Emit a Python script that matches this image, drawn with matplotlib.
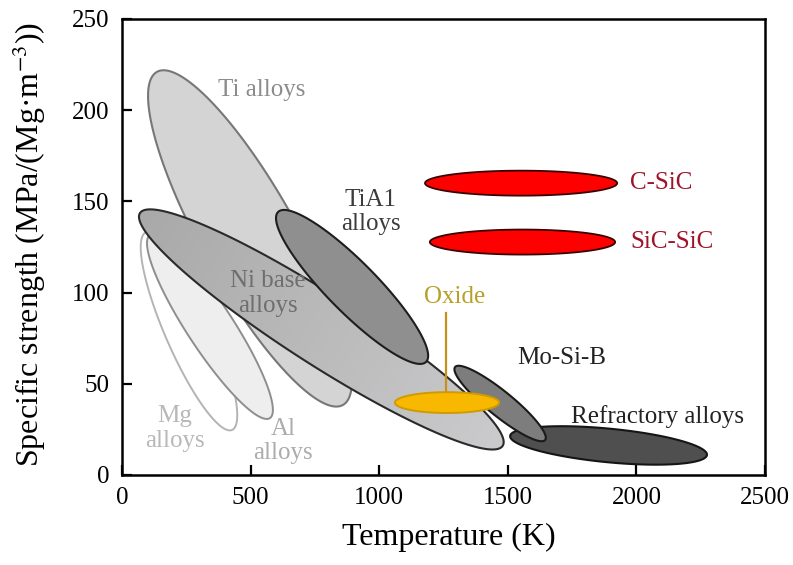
import numpy as np
import matplotlib
matplotlib.use("Agg")
import matplotlib.pyplot as plt
from matplotlib.patches import Polygon
from matplotlib.colors import LinearSegmentedColormap

plt.rcParams["font.family"] = ["Liberation Serif", "DejaVu Serif"]
plt.rcParams["mathtext.fontset"] = "stix"

# Property envelopes: end points of each region's long axis
# (temperature in K, specific strength in MPa/(Mg/m^3)) and its relative thickness
regions = ["Mg alloys", "Al alloys", "Ti alloys", "Ni base alloys", "TiAl alloys",
           "Refractory alloys", "Mo-Si-B", "Oxide", "C-SiC", "SiC-SiC"]
temp_start = [93, 109, 136, 70, 607, 1509, 1295, 1061, 1178, 1197]
strength_start = [133, 131.6, 221, 143.6, 144.2, 21.4, 59.2, 39.7, 160, 127.7]
temp_end = [428, 575, 859, 1480, 1182, 2274, 1645, 1466, 1925, 1917]
strength_end = [24.7, 31.2, 38.4, 16, 62, 11, 19.2, 39.7, 160, 127.7]
spread = [0.22, 0.21, 0.25, 0.163, 0.237, 0.17, 0.215, 0.20, 0.13, 0.135]

x_ticks = [0, 500, 1000, 1500, 2000, 2500]
y_ticks = [0, 50, 100, 150, 200, 250]

styles = {
    "Mg alloys":         dict(face="#ffffff", edge="#b4b4b4", lw=1.4),
    "Al alloys":         dict(face="#eeeeee", edge="#8e8e8e", lw=1.4),
    "Ti alloys":         dict(face="#d4d4d4", edge="#777777", lw=1.5),
    "Ni base alloys":    dict(face=("#a9a9a9", "#cbcbcd"), edge="#2a2a2a", lw=1.5),
    "TiAl alloys":       dict(face="#8f8f8f", edge="#1e1e1e", lw=1.5),
    "Refractory alloys": dict(face="#4f4f4f", edge="#151515", lw=1.5),
    "Mo-Si-B":           dict(face="#7d7d7d", edge="#1a1a1a", lw=1.5),
    "Oxide":             dict(face="#f8b800", edge="#d09a00", lw=1.4),
    "C-SiC":             dict(face="#ff0000", edge="#3a0000", lw=1.3),
    "SiC-SiC":           dict(face="#ff0000", edge="#3a0000", lw=1.3),
}

fig = plt.figure(figsize=(7.93, 5.65), dpi=100)
ax = fig.add_axes([0.1538, 0.1593, 0.8110, 0.8071])
ax.set_xlim(0, 2500)
ax.set_ylim(0, 250)


def draw_region(ax, p1, p2, ratio, face, edge, lw, z):
    """Fill an ellipse whose long axis runs from p1 to p2 (data units).
    A (start, end) pair of colours gives a shade along the long axis."""
    pts = ax.transData.transform([p1, p2])
    c = pts.mean(axis=0)
    half = (pts[1] - pts[0]) / 2.0
    normal = np.array([-half[1], half[0]]) * ratio
    t = np.linspace(0, 2 * np.pi, 300)
    disp = c + np.outer(np.cos(t), half) + np.outer(np.sin(t), normal)
    data = ax.transData.inverted().transform(disp)

    if isinstance(face, tuple):
        outline = Polygon(data, closed=True, facecolor="none", edgecolor=edge,
                          linewidth=lw, zorder=z + 0.5, joinstyle="round")
        ax.add_patch(outline)
        x0, x1 = data[:, 0].min(), data[:, 0].max()
        y0, y1 = data[:, 1].min(), data[:, 1].max()
        gx, gy = np.meshgrid(np.linspace(x0, x1, 300), np.linspace(y0, y1, 300))
        g = ax.transData.transform(np.column_stack([gx.ravel(), gy.ravel()]))
        u = half / np.dot(half, half)
        shade = ((g - c) @ u).reshape(gx.shape)
        shade = np.clip((shade + 1) / 2, 0, 1)
        cmap = LinearSegmentedColormap.from_list("shade", list(face))
        im = ax.imshow(shade, extent=[x0, x1, y0, y1], origin="lower", cmap=cmap,
                       vmin=0, vmax=1, aspect="auto", interpolation="bilinear", zorder=z)
        im.set_clip_path(outline)
    else:
        ax.fill(data[:, 0], data[:, 1], facecolor=face, edgecolor=edge,
                linewidth=lw, zorder=z, joinstyle="round")


for i, name in enumerate(regions):
    st = styles[name]
    draw_region(ax, (temp_start[i], strength_start[i]), (temp_end[i], strength_end[i]),
                spread[i], st["face"], st["edge"], st["lw"], 2 + i)

ax.set_xlim(0, 2500)
ax.set_ylim(0, 250)

# Leader from the oxide label down to its region
ox = regions.index("Oxide")
ox_t = (temp_start[ox] + temp_end[ox]) / 2 - 4
ax.plot([ox_t, ox_t], [89, strength_start[ox]], color="#c8901a", lw=1.6, zorder=1 + ox)

label_fs = 18
labels = [
    ("Ti alloys", 544, 211, "#8c8c8c", "center"),
    ("TiA1\nalloys", 966, 144, "#3c3c3c", "center"),
    ("Ni base\nalloys", 568, 99.5, "#6e6e6e", "center"),
    ("Mg\nalloys", 206, 25.5, "#b8b8b8", "center"),
    ("Al\nalloys", 626, 18.5, "#acacac", "center"),
    ("Mo-Si-B", 1711, 64, "#222222", "center"),
    ("Refractory alloys", 2080, 31.8, "#222222", "center"),
    ("Oxide", 1295, 97.6, "#b8a028", "center"),
    ("C-SiC", 1975, 160, "#a0142a", "left"),
    ("SiC-SiC", 1975, 127.7, "#a0142a", "left"),
]
for text, tx, ty, col, ha in labels:
    ax.text(tx, ty, text, color=col, fontsize=label_fs, ha=ha, va="center",
            linespacing=1.12, zorder=20)

ax.set_xticks(x_ticks)
ax.set_yticks(y_ticks)
ax.tick_params(direction="in", length=7, width=1.6, labelsize=18, pad=9)
for sp in ax.spines.values():
    sp.set_linewidth(1.8)
    sp.set_zorder(30)

ax.set_xlabel("Temperature (K)", fontsize=23)
ax.set_ylabel("Specific strength (MPa/(Mg\u00b7m$^{-3}$))", fontsize=23)
ax.xaxis.set_label_coords(0.508, -0.105)
ax.yaxis.set_label_coords(-0.115, 0.505)

fig.savefig("out.png", dpi=100)
